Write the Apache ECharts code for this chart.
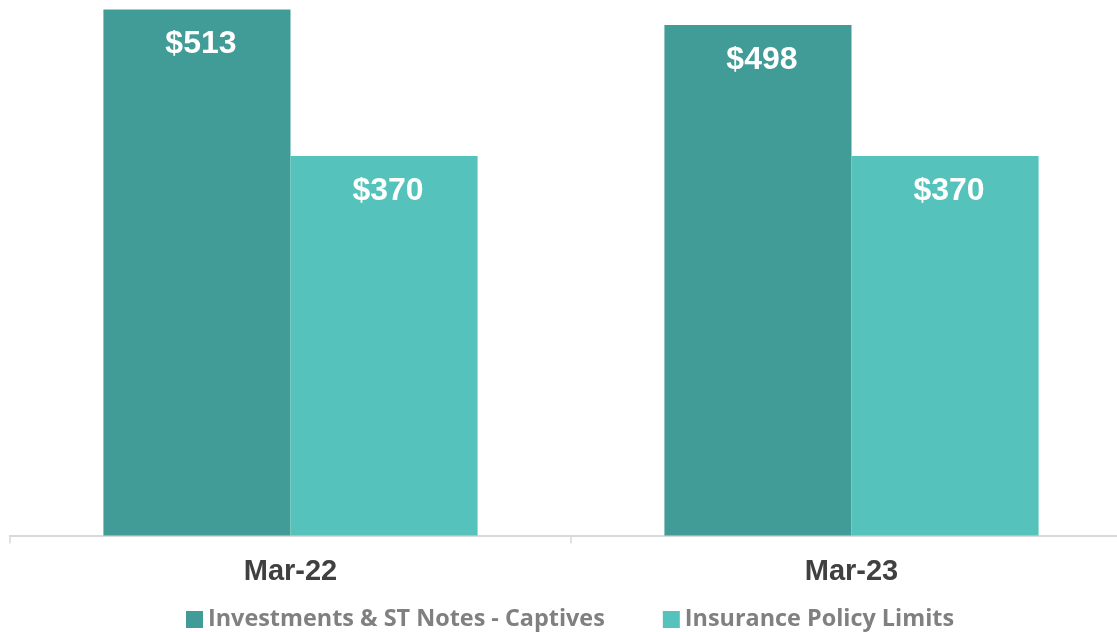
<!DOCTYPE html>
<html>
<head>
<meta charset="utf-8">
<script src="https://cdn.jsdelivr.net/npm/echarts@6/dist/echarts.min.js"></script>
<style>
  html, body { margin: 0; padding: 0; background: #ffffff; }
  #chart { width: 1117px; height: 632px; }
</style>
</head>
<body>
<div id="chart"></div>
<script>
// Period labels along the x axis
const categories = ['Mar-22', 'Mar-23'];
// Series names shown in the legend
const seriesNames = ['Investments & ST Notes - Captives', 'Insurance Policy Limits'];
// Values in $ millions
const investmentsValues = [513, 498];
const insuranceValues = [370, 370];

const colors = ['#419b96', '#55c3bc'];

const chart = echarts.init(document.getElementById('chart'));

const valueLabel = {
  show: true,
  position: 'insideTop',
  distance: 18,
  offset: [4, 1],
  color: '#ffffff',
  fontFamily: 'Liberation Sans, Arial, sans-serif',
  fontWeight: 'bold',
  fontSize: 32,
  formatter: p => '$' + p.value
};

chart.setOption({
  animation: false,
  color: colors,
  grid: {
    left: 10, top: 9.5, width: 1122, height: 526,
    containLabel: false,
    outerBoundsMode: 'none'
  },
  legend: {
    left: 181,
    top: 603,
    itemWidth: 17,
    itemHeight: 17,
    itemGap: 58,
    icon: 'rect',
    textStyle: {
      color: '#808080',
      fontFamily: 'Open Sans, sans-serif',
      fontWeight: 'bold',
      fontSize: 23.4
    },
    data: seriesNames
  },
  xAxis: {
    type: 'category',
    data: categories,
    axisLine: { lineStyle: { color: '#d9d9d9', width: 2 } },
    axisTick: { show: true, length: 8, lineStyle: { color: '#d9d9d9', width: 1.5 } },
    axisLabel: {
      margin: 22,
      color: '#404040',
      fontFamily: 'Liberation Sans, Arial, sans-serif',
      fontWeight: 'bold',
      fontSize: 29
    }
  },
  yAxis: {
    type: 'value',
    min: 0,
    max: 513,
    show: false,
    splitLine: { show: false }
  },
  series: [
    {
      name: seriesNames[0],
      type: 'bar',
      data: investmentsValues,
      barGap: '0%',
      barCategoryGap: '33.3%',
      label: valueLabel
    },
    {
      name: seriesNames[1],
      type: 'bar',
      data: insuranceValues,
      barGap: '0%',
      barCategoryGap: '33.3%',
      label: valueLabel
    }
  ]
});
</script>
</body>
</html>
